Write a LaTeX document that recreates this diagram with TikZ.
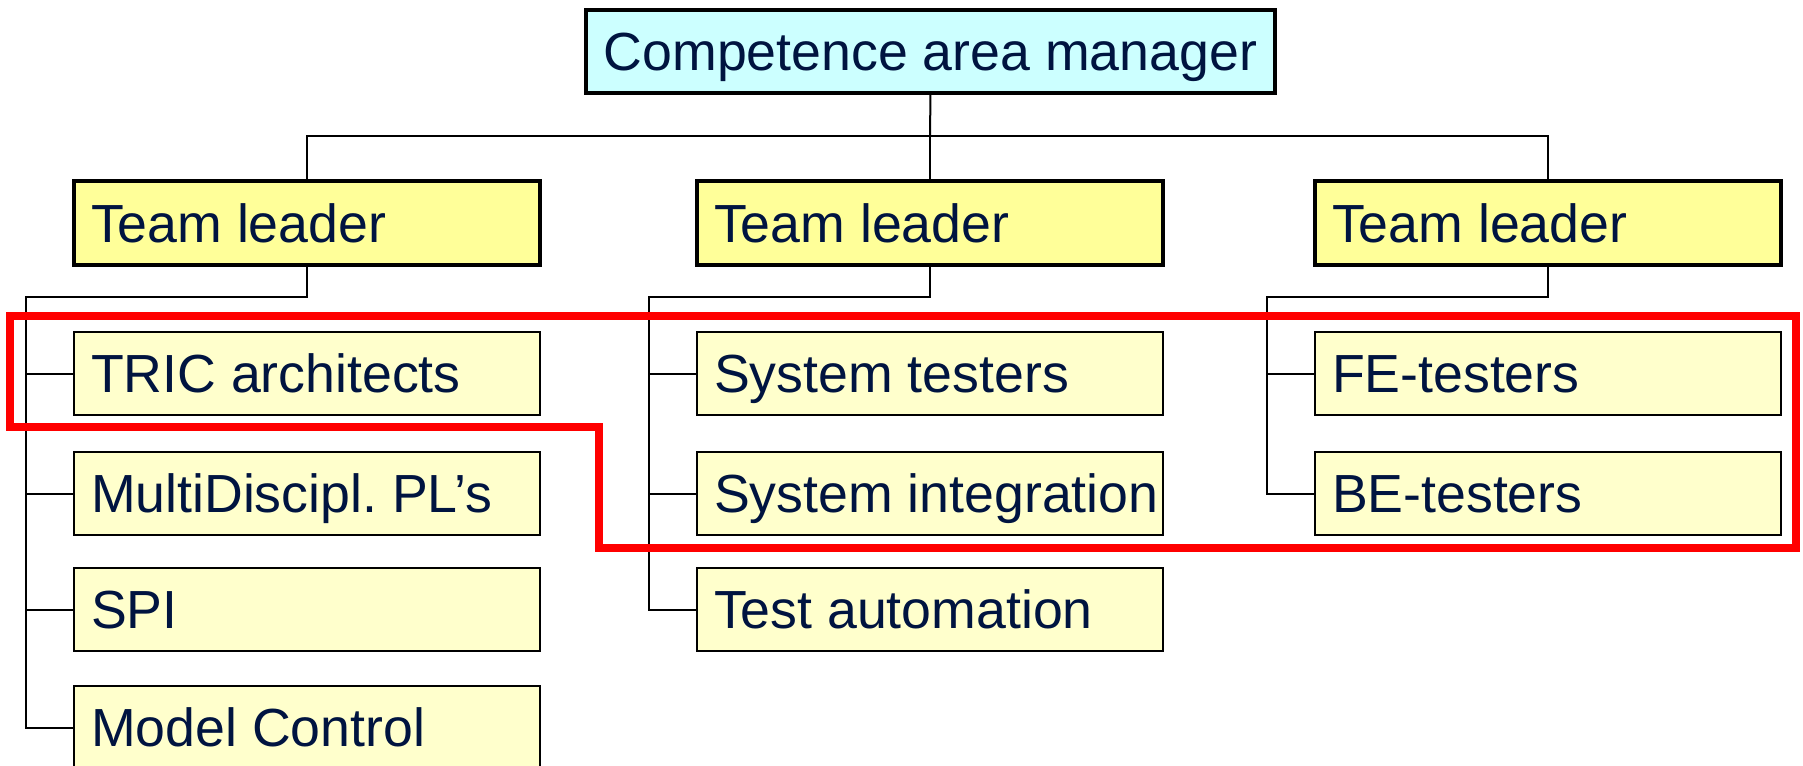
\documentclass[tikz,border=0pt]{standalone}
\usepackage{fontspec}
\setmainfont{Liberation Sans}

\definecolor{txtnavy}{RGB}{0,20,64}
\definecolor{mgrcyan}{RGB}{204,255,255}
\definecolor{leadyellow}{RGB}{255,255,153}
\definecolor{unityellow}{RGB}{255,255,204}
\definecolor{focusred}{RGB}{255,0,0}

\tikzset{every picture/.style={line width=0.75pt}}
\tikzset{
  orgtext/.style={font=\fontsize{40.25}{44}\selectfont, text=txtnavy, text height=28.8pt, text depth=0pt, inner ysep=0pt, outer sep=0pt},
  mgrbox/.style={orgtext, draw, line width=3pt, fill=mgrcyan, minimum width=516.75pt, minimum height=62.25pt, inner xsep=0pt, anchor=north west},
  leadbox/.style={orgtext, draw, line width=3pt, fill=leadyellow, minimum width=349.5pt, minimum height=63pt, inner xsep=12.75pt, anchor=north west},
  unitbox/.style={orgtext, draw, line width=1.5pt, fill=unityellow, minimum width=349.5pt, minimum height=62.25pt, inner xsep=12.75pt, anchor=north west},
  link/.style={line width=1.5pt},
  focus/.style={draw=focusred, line width=6pt, line join=miter},
}
\newcommand{\lbl}[1]{\makebox[324pt][l]{#1}}

\begin{document}
\begin{tikzpicture}[x=0.75pt,y=0.75pt,yscale=-1,xscale=1]
\clip (0,0) rectangle (1803,765);

% Text Node
\node [mgrbox] (mgr) at (586,10) {Competence area manager};
% Text Node
\node [leadbox] (leadA) at (74,181) {\lbl{Team leader}};
% Text Node
\node [leadbox] (leadB) at (697,181) {\lbl{Team leader}};
% Text Node
\node [leadbox] (leadC) at (1315,181) {\lbl{Team leader}};

% Text Node
\node [unitbox] (tric) at (74,332) {\lbl{TRIC architects}};
% Text Node
\node [unitbox] (multi) at (74,452) {\lbl{MultiDiscipl.\ PL’s}};
% Text Node
\node [unitbox] (spi) at (74,568) {\lbl{SPI}};
% Text Node
\node [unitbox] (model) at (74,686) {\lbl{Model Control}};
% Text Node
\node [unitbox] (systest) at (697,332) {\lbl{System testers}};
% Text Node
\node [unitbox] (sysint) at (697,452) {\lbl{System integration}};
% Text Node
\node [unitbox] (testauto) at (697,568) {\lbl{Test automation}};
% Text Node
\node [unitbox] (fetest) at (1315,332) {\lbl{FE-testers}};
% Text Node
\node [unitbox] (betest) at (1315,452) {\lbl{BE-testers}};

\coordinate (hub) at (930,136);
\coordinate (busA) at (26,297);
\coordinate (busB) at (649,297);
\coordinate (busC) at (1267,297);

%Straight Lines
\draw [link] (mgr.south) -- (hub);
\draw [link] (leadA.north) |- (hub) -| (leadC.north);
\draw [link] (hub) -- (leadB.north);
%Straight Lines
\draw [link] (leadA.south) |- (busA) |- (model.west);
\draw [link] (busA |- tric.west) -- (tric.west);
\draw [link] (busA |- multi.west) -- (multi.west);
\draw [link] (busA |- spi.west) -- (spi.west);
%Straight Lines
\draw [link] (leadB.south) |- (busB) |- (testauto.west);
\draw [link] (busB |- systest.west) -- (systest.west);
\draw [link] (busB |- sysint.west) -- (sysint.west);
%Straight Lines
\draw [link] (leadC.south) |- (busC) |- (betest.west);
\draw [link] (busC |- fetest.west) -- (fetest.west);

%Shape: Polygon
\draw [focus] (10,316) -- (1796,316) -- (1796,548) -- (599,548) -- (599,427) -- (10,427) -- cycle;

\end{tikzpicture}
\end{document}
